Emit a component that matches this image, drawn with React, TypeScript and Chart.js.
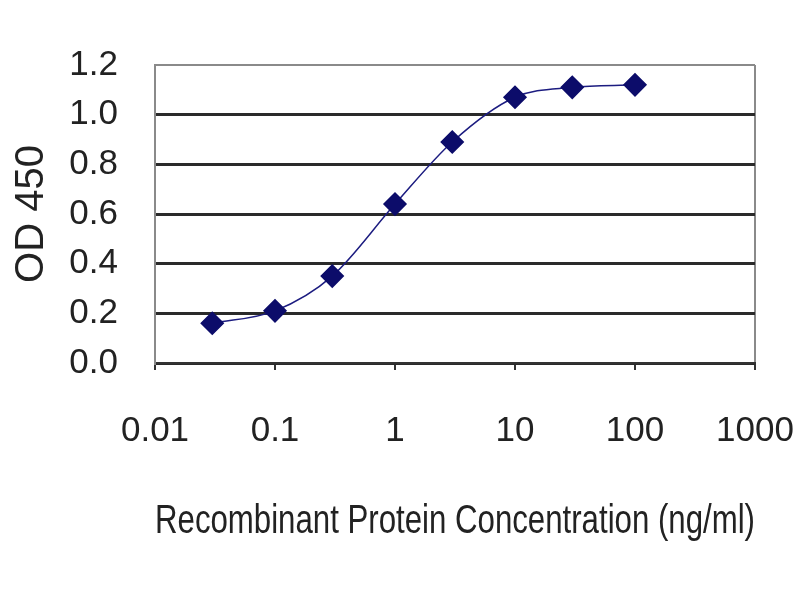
import React, { useEffect, useRef } from "react";
import { Chart, registerables } from "chart.js";

Chart.register(...registerables);

const concentrations = [0.03, 0.1, 0.3, 1, 3, 10, 30, 100];
const od450 = [0.16, 0.21, 0.35, 0.64, 0.89, 1.07, 1.11, 1.12];
const xTickValues = [0.01, 0.1, 1, 10, 100, 1000];
const xTickLabels = ["0.01", "0.1", "1", "10", "100", "1000"];
const yTickValues = [0, 0.2, 0.4, 0.6, 0.8, 1.0, 1.2];

export default function App() {
  const ref = useRef<HTMLCanvasElement | null>(null);

  useEffect(() => {
    document.body.style.margin = "0";
    const canvas = ref.current;
    if (!canvas) return;
    const family = "'Liberation Sans', Arial, sans-serif";
    const chart = new Chart(canvas, {
      type: "line",
      data: {
        datasets: [
          {
            data: concentrations.map((x, i) => ({ x, y: od450[i] })),
            borderColor: "#1c1c80",
            borderWidth: 1.5,
            backgroundColor: "#0c0c6a",
            pointBackgroundColor: "#0c0c6a",
            pointBorderColor: "#0c0c6a",
            pointStyle: "rectRot",
            pointRadius: 11,
            pointHoverRadius: 11,
            tension: 0.4,
            cubicInterpolationMode: "monotone",
            fill: false,
          },
        ],
      },
      options: {
        responsive: false,
        animation: false,
        layout: { padding: { top: 65, right: 45, left: 0, bottom: 0 } },
        plugins: {
          legend: { display: false },
          tooltip: { enabled: false },
        },
        scales: {
          x: {
            type: "logarithmic",
            min: 0.01,
            max: 1000,
            afterBuildTicks: (scale: any) => {
              scale.ticks = xTickValues.map((v) => ({ value: v }));
            },
            afterFit: (scale: any) => {
              scale.height = 237;
              scale.paddingLeft = 0;
              scale.paddingRight = 0;
            },
            ticks: {
              autoSkip: false,
              maxRotation: 0,
              minRotation: 0,
              padding: 40,
              color: "#222",
              font: { family, size: 35 },
              callback: (_v: any, i: number) => xTickLabels[i],
            },
            grid: {
              drawOnChartArea: true,
              drawTicks: true,
              tickLength: 7,
              lineWidth: 2,
              color: (ctx: any) =>
                ctx.tick && ctx.tick.value === 1000 ? "#8a8a8a" : "rgba(0,0,0,0)",
              tickColor: "#333",
              tickWidth: 2,
            },
            border: { display: true, color: "#333", width: 2 },
            title: {
              display: true,
              text: "Recombinant Protein Concentration (ng/ml)",
              color: "#222",
              font: { family, size: 40 },
              padding: { top: 0, bottom: 54 },
            },
          },
          y: {
            min: 0,
            max: 1.2,
            afterBuildTicks: (scale: any) => {
              scale.ticks = yTickValues.map((v) => ({ value: v }));
            },
            afterFit: (scale: any) => {
              scale.width = 155;
              scale.paddingTop = 0;
              scale.paddingBottom = 0;
            },
            ticks: {
              autoSkip: false,
              padding: 37,
              color: "#222",
              font: { family, size: 35 },
              callback: (v: any) => Number(v).toFixed(1),
            },
            grid: {
              drawTicks: false,
              lineWidth: (ctx: any) => (ctx.tick && ctx.tick.value === 1.2 ? 2 : 3),
              color: (ctx: any) =>
                ctx.tick && ctx.tick.value === 1.2 ? "#8a8a8a" : "#2a2a2a",
            },
            border: { display: true, color: "#8a8a8a", width: 2 },
            title: {
              display: true,
              text: "OD 450",
              color: "#222",
              font: { family, size: 40 },
              padding: { top: 8, bottom: 0 },
            },
          },
        },
      },
    } as any);
    return () => chart.destroy();
  }, []);

  return <canvas ref={ref} width={800} height={600} style={{ display: "block" }} />;
}
